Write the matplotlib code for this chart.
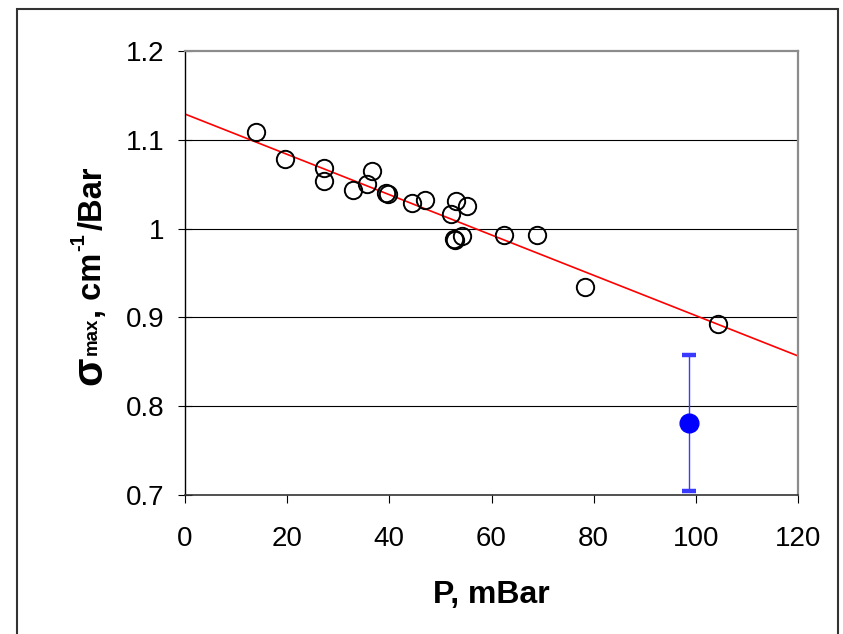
import matplotlib
matplotlib.use("Agg")
import matplotlib.pyplot as plt
from matplotlib.patches import Rectangle
import numpy as np

plt.rcParams['font.family'] = ['Liberation Sans', 'DejaVu Sans']

# measured points (open circles)
p_mbar = [13.9, 19.6, 27.2, 27.2, 32.8, 35.6, 36.7, 39.4, 39.8, 44.5, 46.9,
          52.0, 53.0, 55.3, 52.6, 52.9, 54.2, 62.5, 68.9, 78.4, 104.3]
sigma_max = [1.109, 1.078, 1.068, 1.054, 1.0435, 1.050, 1.065, 1.040, 1.039,
             1.0285, 1.032, 1.017, 1.031, 1.026, 0.988, 0.987, 0.992, 0.993,
             0.993, 0.934, 0.8926]

# single reference point with error bar
ref_p = [98.7]
ref_sigma = [0.781]
ref_err = [0.077]

# linear trend line
fit_intercept = 1.129
fit_slope = -0.00227
fit_x = [0, 120]

x_ticks = [0, 20, 40, 60, 80, 100, 120]
y_ticks = [0.7, 0.8, 0.9, 1.0, 1.1, 1.2]
y_ticklabels = ['0.7', '0.8', '0.9', '1', '1.1', '1.2']

W, H = 843, 634
fig = plt.figure(figsize=(W / 100, H / 100), dpi=100)
ax = fig.add_axes([185 / W, (H - 495) / H, (798 - 185) / W, (495 - 51) / H])

ax.set_xlim(0, 120)
ax.set_ylim(0.7, 1.2)

for yv in y_ticks[1:-1]:
    ax.axhline(yv, color='black', lw=0.8, zorder=1)

fx = np.array(fit_x, dtype=float)
ax.plot(fx, fit_intercept + fit_slope * fx, color='red', lw=1.2, zorder=2)

ax.plot(p_mbar, sigma_max, linestyle='none', marker='o', markersize=12.5,
        markerfacecolor='none', markeredgecolor='black', markeredgewidth=1.4,
        zorder=3)

ax.errorbar(ref_p, ref_sigma, yerr=ref_err, fmt='o', color='#0000ff',
            ecolor='#3a3aff', elinewidth=1.0, capsize=4.8, capthick=3.2,
            markersize=13.5, zorder=4, clip_on=False)

ax.set_xticks(x_ticks)
ax.set_xticklabels([str(v) for v in x_ticks])
ax.set_yticks(y_ticks)
ax.set_yticklabels(y_ticklabels)

ax.tick_params(axis='x', direction='out', length=6, width=0.8, labelsize=20,
               pad=16, colors='black')
ax.tick_params(axis='y', direction='inout', length=10, width=0.8, labelsize=20,
               pad=10, colors='black')

for s in ['top', 'right']:
    ax.spines[s].set_color('#8c8c8c')
    ax.spines[s].set_linewidth(1.6)
ax.spines['left'].set_color('black')
ax.spines['left'].set_linewidth(1.0)
ax.spines['bottom'].set_color('#333333')
ax.spines['bottom'].set_linewidth(1.2)

ax.set_xlabel('P, mBar', fontsize=23, fontweight='bold')
ax.xaxis.set_label_coords(0.5, (495 - 580) / 444)

# y label built from pieces (large sigma, small superscripts)
# (text, font size, raise in px, gap after in px)
pieces = [('σ', 30, 0, 1.5), ('max', 13.5, 5, 0), (', cm', 23.5, 0, 1),
          ('-1', 14.5, 17, 4), ('/Bar', 23.5, 0, 0)]
fig.canvas.draw()
renderer = fig.canvas.get_renderer()
base_x = 101.5
cur_y = H - 385
for txt, size, raise_px, gap in pieces:
    t = fig.text((base_x - raise_px) / W, cur_y / H, txt, fontsize=size,
                 fontweight='bold', rotation=90, rotation_mode='anchor',
                 ha='left', va='baseline')
    bb = t.get_window_extent(renderer=renderer)
    cur_y += bb.height + gap

fig.add_artist(Rectangle((16.5 / W, -0.05), (837.5 - 16.5) / W, 1.05 - 9 / H,
                         transform=fig.transFigure, fill=False,
                         edgecolor='#333333', lw=1.5))

fig.savefig('out.png', dpi=100)
